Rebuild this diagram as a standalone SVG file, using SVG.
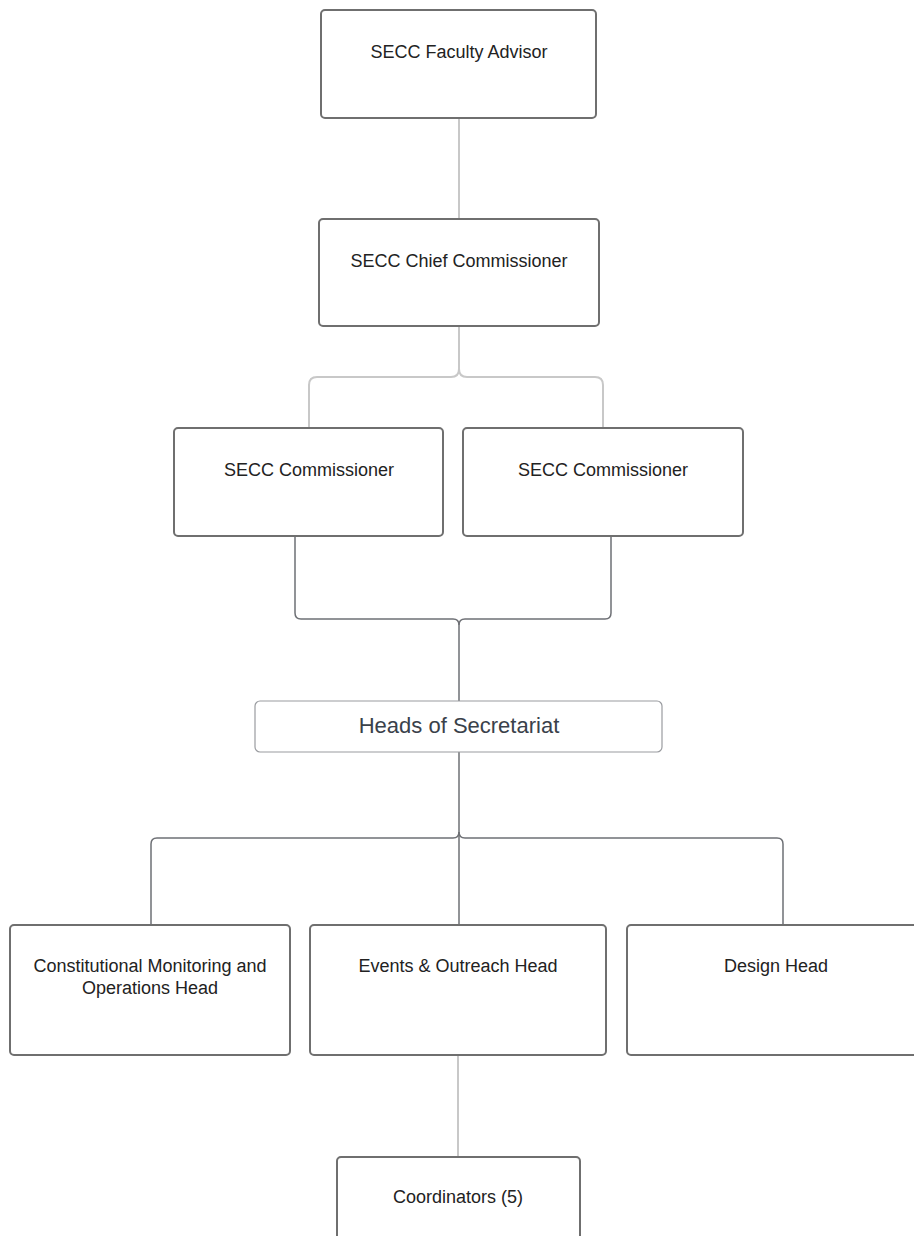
<svg xmlns="http://www.w3.org/2000/svg" width="914" height="1236" viewBox="0 0 914 1236">
<style>
.box{fill:#ffffff;stroke:#6f6f6f;stroke-width:2}
.hbox{fill:#ffffff;stroke:#9a9ca0;stroke-width:1.2}
.lbl{font-family:"Liberation Sans",Arial,sans-serif;font-size:18px;fill:#222222;text-anchor:middle}
.hlbl{font-family:"Liberation Sans",Arial,sans-serif;font-size:22px;fill:#3a414a;text-anchor:middle}
.cl{fill:none;stroke:#c8c8c8;stroke-width:2}
.cd{fill:none;stroke:#6e7075;stroke-width:1.5}
</style>
<rect width="914" height="1236" fill="#ffffff"/>
<g id="connectors">
<path class="cl" d="M459,118 V219"/>
<path class="cl" d="M459,326 V369 Q459,377 451,377 H317 Q309,377 309,385 V428"/>
<path class="cl" d="M459,369 Q459,377 467,377 H595 Q603,377 603,385 V428"/>
<path class="cd" d="M295,536 V613 Q295,619 301,619 H453 Q459,619 459,625 V701"/>
<path class="cd" d="M611,536 V613 Q611,619 605,619 H465 Q459,619 459,625"/>
<path class="cd" d="M459,752 V925"/>
<path class="cd" d="M459,832 Q459,838 453,838 H157 Q151,838 151,844 V925"/>
<path class="cd" d="M459,832 Q459,838 465,838 H777 Q783,838 783,844 V925"/>
<path class="cl" d="M458,1055 V1157"/>
</g>
<g id="faculty-advisor">
<rect class="box" x="321" y="10" width="275" height="108" rx="4"/>
<text class="lbl" x="459" y="58">SECC Faculty Advisor</text>
</g>
<g id="chief-commissioner">
<rect class="box" x="319" y="219" width="280" height="107" rx="4"/>
<text class="lbl" x="459" y="267">SECC Chief Commissioner</text>
</g>
<g id="commissioner-1">
<rect class="box" x="174" y="428" width="269" height="108" rx="4"/>
<text class="lbl" x="309" y="476">SECC Commissioner</text>
</g>
<g id="commissioner-2">
<rect class="box" x="463" y="428" width="280" height="108" rx="4"/>
<text class="lbl" x="603" y="476">SECC Commissioner</text>
</g>
<g id="heads-of-secretariat">
<rect class="hbox" x="255" y="701" width="407" height="51" rx="5"/>
<text class="hlbl" x="459" y="733">Heads of Secretariat</text>
</g>
<g id="constitutional-head">
<rect class="box" x="10" y="925" width="280" height="130" rx="4"/>
<text class="lbl" x="150" y="972">Constitutional Monitoring and</text>
<text class="lbl" x="150" y="994">Operations Head</text>
</g>
<g id="events-head">
<rect class="box" x="310" y="925" width="296" height="130" rx="4"/>
<text class="lbl" x="458" y="972">Events &amp; Outreach Head</text>
</g>
<g id="design-head">
<rect class="box" x="627" y="925" width="298" height="130" rx="4"/>
<text class="lbl" x="776" y="972">Design Head</text>
</g>
<g id="coordinators">
<rect class="box" x="337" y="1157" width="243" height="100" rx="4"/>
<text class="lbl" x="458" y="1203">Coordinators (5)</text>
</g>
</svg>
